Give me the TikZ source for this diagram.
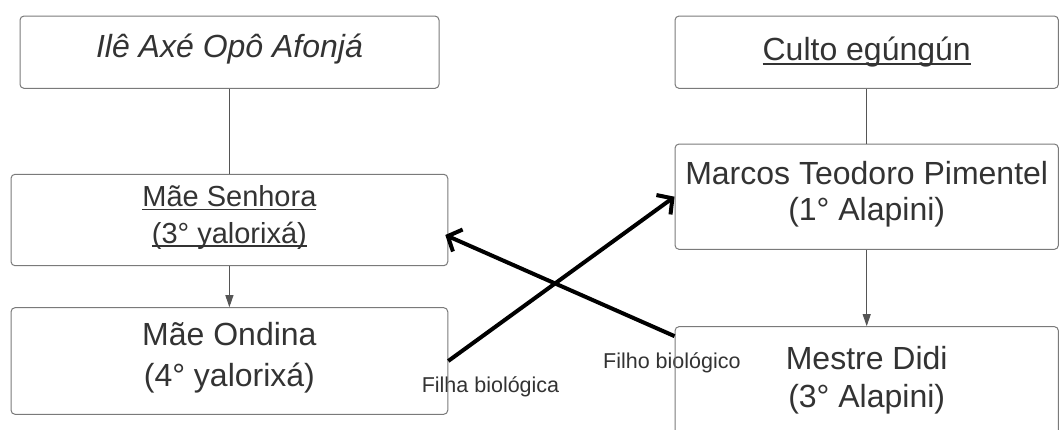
\documentclass[tikz,border=0pt]{standalone}
\usepackage{fontspec}
\setmainfont{Liberation Sans}
\usetikzlibrary{arrows.meta,calc}
\definecolor{txt}{HTML}{333333}
\definecolor{edge}{HTML}{7A7A7A}
\definecolor{conn}{HTML}{555555}
\newcommand\myul[1]{\setbox0\hbox{#1}\rlap{\rule[-3.6pt]{\wd0}{1.6pt}}\box0}
\begin{document}
\begin{tikzpicture}[x=1pt,y=-1pt,
  box/.style={draw=edge,line width=1pt,rounded corners=4pt,inner sep=0pt},
  maintext/.style={text=txt,font=\fontsize{32}{37}\selectfont,align=center,inner sep=0pt},
  lbl/.style={text=txt,font=\fontsize{21.5}{26}\selectfont,inner sep=0pt,anchor=base},
  thinline/.style={draw=conn,line width=1pt},
  thinarrow/.style={thinline,-{Triangle[length=12pt,width=8pt]}},
  bigarrow/.style={draw=black,line width=4pt,-{Straight Barb[length=11pt,width=24pt]}}]
\clip (0,0) rectangle (1059,430);
\fill[white] (0,0) rectangle (1059,430);
% labels (drawn under the box borders)
\node[lbl] (L1) at (490.5,392.7) {Filha biológica};
\node[lbl] (L2) at (671.9,368) {Filho biológico};
% boxes
\node[box, minimum width=419pt, minimum height=72.3pt] (A) at (229.5,52.2) {};
\node[box, minimum width=436.7pt, minimum height=91.4pt] (B) at (229.4,220) {};
\node[box, minimum width=436.7pt, minimum height=106.6pt] (C) at (229.4,361) {};
\node[box, minimum width=383.3pt, minimum height=72.3pt] (D) at (866.7,52.2) {};
\node[box, minimum width=383.3pt, minimum height=105.3pt] (E) at (866.7,196.7) {};
\node[box, minimum width=383.3pt, minimum height=133.3pt] (F) at (866.7,393.3) {};
% texts
\node[maintext, anchor=base, font=\itshape\fontsize{32}{37}\selectfont] (At) at (229.5,57.3) {Ilê Axé Opô Afonjá};
\node[maintext, font=\fontsize{29}{36.6}\selectfont] (Bt) at (229.4,217.5) {\myul{Mãe Senhora}\\\myul{(3° yalorixá)}};
\node[maintext] (Ct) at (229.4,358) {Mãe Ondina\\[3.7pt](4° yalorixá)};
\node[maintext, anchor=base] (Dt) at (866.7,61) {\myul{Culto egúngún}};
\node[maintext] (Et) at (866.7,194.7) {Marcos Teodoro Pimentel\\[-1pt](1° Alapini)};
\node[maintext] (Ft) at (866.7,380) {Mestre Didi\\[1pt](3° Alapini)};
% thin connectors
\draw[thinline] (A.south) -- (A.south |- B.north);
\draw[thinarrow] (B.south) -- (B.south |- C.north);
\draw[thinline] (D.south) -- (E.north);
\draw[thinarrow] (E.south) -- (F.north);
% thick arrows
\draw[bigarrow] (C.east) -- (E.west);
\draw[bigarrow] ($(F.north west)+(0,10)$) -- ($(B.east)+(-3,15)$);
\end{tikzpicture}
\end{document}
